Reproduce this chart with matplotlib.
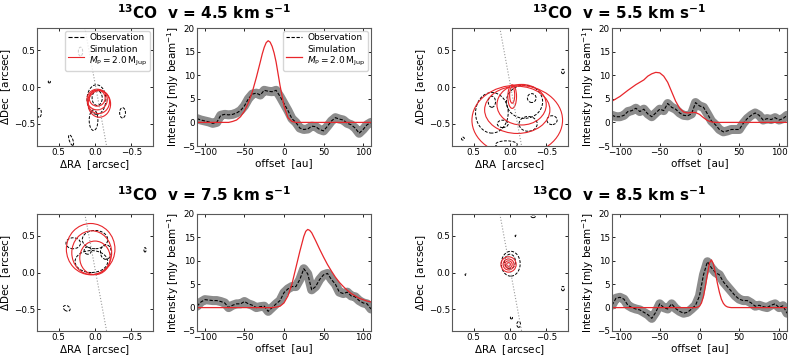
import numpy as np
import matplotlib
matplotlib.use('Agg')
import matplotlib.pyplot as plt
from matplotlib.patches import Ellipse

# ---- line profiles along the cut (offset in au) ----
offset = np.arange(-110, 111, 5)

obs_45 = [0.8, 0.5, 0.3, 0.1, -0.2, 0.0, 1.5, 1.7, 1.6, 1.7, 2.0, 2.5, 3.5, 5.0, 6.0,
          6.2, 5.8, 6.8, 6.6, 6.5, 6.8, 5.5, 4.0, 2.5, 0.8, 0.0, -1.2, -1.5, -1.4, -0.8,
          -0.9, -1.5, -1.8, -0.8, 0.3, 1.0, 0.7, 0.5, -0.2, -0.5, -1.2, -2.3, -1.5, -0.5, 0.0]
obs_55 = [1.5, 1.2, 1.2, 1.5, 2.3, 2.5, 3.0, 2.3, 2.8, 1.8, 1.2, 2.0, 2.8, 2.5, 4.0,
          3.2, 2.8, 2.0, 1.5, 1.4, 1.8, 4.2, 3.5, 3.2, 1.8, 0.3, -0.5, -1.5, -2.0, -1.8,
          -1.5, -1.5, -1.5, -0.2, 0.8, 1.5, 2.0, 1.5, 0.5, 0.8, 0.6, 1.0, 0.5, 0.8, 1.5]
obs_75 = [0.3, 1.2, 1.7, 1.6, 1.5, 1.5, 1.3, 1.0, 0.0, 0.5, 0.8, 0.8, 1.3, 0.8, 0.5,
          0.0, 0.2, 0.3, -0.8, 0.0, 0.8, 1.5, 3.2, 4.0, 4.5, 4.5, 6.0, 8.3, 7.2, 3.8,
          4.5, 6.0, 7.0, 7.3, 6.0, 5.0, 3.3, 3.0, 3.3, 2.5, 2.3, 1.5, 1.0, 0.8, -0.3]
obs_85 = [0.5, 2.0, 2.2, 1.8, 0.5, 0.0, -0.3, -0.5, -1.0, -1.5, -2.3, -1.0, 0.8, 0.0, -0.3,
          0.8, -0.2, -0.8, -1.2, -1.0, -0.3, 0.5, 2.5, 7.0, 9.8, 8.5, 7.5, 7.0, 5.5, 4.5,
          3.5, 2.5, 1.8, 1.5, 1.5, 1.0, 0.3, 0.5, 0.2, 0.0, 0.5, 0.8, 0.0, 0.4, -1.2]

sim_x_45 = [-110, -70, -65, -60, -55, -50, -45, -40, -35, -30, -27.5, -25, -22.5, -20,
            -17.5, -15, -12.5, -10, -5, 0, 5, 10, 15, 110]
sim_45 = [0, 0, 0.2, 0.5, 1.2, 2.4, 4.2, 6.5, 9.5, 12.8, 14.5, 15.9, 16.9, 17.3,
          17.0, 16.1, 14.7, 12.8, 7.8, 3.5, 1.0, 0.2, 0, 0]
sim_x_55 = [-110, -100, -90, -80, -70, -65, -60, -55, -50, -45, -40, -35, -30, -25, -20,
            -15, -10, -5, 0, 5, 10, 15, 20, 110]
sim_55 = [4.5, 5.5, 6.8, 8.0, 9.0, 9.8, 10.3, 10.6, 10.5, 9.8, 8.5, 6.5, 4.5, 3.0, 2.2,
          2.0, 2.1, 2.1, 1.7, 1.0, 0.4, 0.1, 0, 0]
sim_x_75 = [-110, -15, -10, -5, 0, 5, 10, 15, 20, 25, 27.5, 30, 32.5, 35, 40, 45, 50, 55,
            60, 65, 70, 75, 80, 85, 90, 95, 100, 105, 110]
sim_75 = [0, 0, 0.1, 0.3, 1.0, 2.5, 5.0, 8.5, 12.0, 15.2, 16.3, 16.7, 16.5, 16.0, 14.3,
          12.5, 10.8, 9.2, 7.8, 6.5, 5.4, 4.5, 3.7, 3.0, 2.5, 2.0, 1.7, 1.4, 1.2]
sim_x_85 = [-110, -5, -2.5, 0, 2.5, 5, 7.5, 10, 12.5, 15, 17.5, 20, 22.5, 25, 27.5, 30,
            32.5, 35, 37.5, 40, 110]
sim_85 = [0, 0, 0.1, 0.3, 1.0, 2.4, 4.6, 7.2, 9.5, 10.2, 9.3, 7.4, 5.2, 3.3, 1.8, 0.9,
          0.4, 0.15, 0.05, 0, 0]

# ---- channel-map contours as ellipses: (dRA, dDec, width, height, angle) ----
sim_cont_45 = [(-0.03, -0.17, 0.28, 0.28, 0), (-0.05, -0.20, 0.30, 0.32, 0),
               (-0.06, -0.23, 0.31, 0.36, 0), (-0.03, -0.15, 0.22, 0.22, 0)]
obs_cont_45 = [(-0.02, -0.17, 0.26, 0.40, 0), (0.02, -0.45, 0.12, 0.28, 0),
               (-0.03, -0.15, 0.14, 0.20, 0), (-0.38, -0.35, 0.08, 0.14, 0),
               (0.33, -0.72, 0.05, 0.15, -20), (0.77, -0.35, 0.06, 0.12, 0),
               (0.63, 0.07, 0.03, 0.03, 0), (0.20, 0.48, 0.06, 0.12, 0)]
sim_cont_55 = [(-0.10, -0.45, 1.25, 0.95, 0), (-0.10, -0.31, 0.90, 0.64, 0),
               (-0.16, -0.24, 0.68, 0.55, 0), (-0.03, -0.13, 0.12, 0.32, 0),
               (-0.03, -0.11, 0.07, 0.22, 0)]
obs_cont_55 = [(0.25, -0.35, 0.45, 0.55, 0), (-0.20, -0.20, 0.50, 0.45, 0),
               (0.25, -0.20, 0.10, 0.15, 0), (0.10, -0.50, 0.15, 0.10, 0),
               (-0.25, -0.50, 0.25, 0.20, 0), (-0.30, -0.15, 0.12, 0.12, 0),
               (-0.58, -0.45, 0.14, 0.12, 0), (0.05, -0.78, 0.30, 0.10, 0),
               (0.65, -0.70, 0.04, 0.04, 0), (-0.73, 0.21, 0.04, 0.06, 0)]
sim_cont_75 = [(0.06, 0.32, 0.67, 0.70, 0), (0.045, 0.27, 0.55, 0.60, 0),
               (0.0, 0.20, 0.42, 0.46, 0)]
obs_cont_75 = [(0.30, 0.40, 0.20, 0.15, 0), (0.0, 0.45, 0.35, 0.25, 0),
               (0.05, 0.15, 0.45, 0.30, 0), (-0.15, 0.28, 0.15, 0.20, 0),
               (0.10, 0.30, 0.10, 0.10, 0), (0.39, -0.49, 0.10, 0.07, 30),
               (-0.69, 0.31, 0.03, 0.06, 0)]
sim_cont_85 = [(0.02, 0.11, 0.21, 0.21, 0), (0.02, 0.11, 0.15, 0.15, 0),
               (0.02, 0.11, 0.10, 0.10, 0), (0.02, 0.11, 0.05, 0.05, 0)]
obs_cont_85 = [(-0.01, 0.12, 0.26, 0.34, 0), (0.0, 0.15, 0.15, 0.20, 0),
               (0.61, -0.03, 0.02, 0.02, 0), (-0.08, 0.50, 0.02, 0.02, 0),
               (-0.73, -0.22, 0.04, 0.06, 0), (-0.32, 0.77, 0.06, 0.04, 0),
               (-0.02, -0.62, 0.03, 0.03, 0), (-0.12, -0.71, 0.05, 0.08, 0)]

cut_ra = [0.14, -0.16]
cut_dec = [0.8, -0.8]

velocities = ['4.5', '5.5', '7.5', '8.5']
obs_all = [obs_45, obs_55, obs_75, obs_85]
sim_x_all = [sim_x_45, sim_x_55, sim_x_75, sim_x_85]
sim_all = [sim_45, sim_55, sim_75, sim_85]
sim_cont_all = [sim_cont_45, sim_cont_55, sim_cont_75, sim_cont_85]
obs_cont_all = [obs_cont_45, obs_cont_55, obs_cont_75, obs_cont_85]

W, H = 789, 359
fig = plt.figure(figsize=(W / 100, H / 100), dpi=100)

# pixel boxes (left, top, right, bottom) for each group
map_boxes = [(37, 28, 153, 146), (452, 28, 568, 146), (37, 214, 153, 331), (452, 214, 568, 331)]
line_boxes = [(197, 28, 371, 146), (612, 28, 787, 146), (197, 214, 371, 331), (612, 214, 787, 331)]
title_pos = [(204, 13), (619, 13), (204, 195), (619, 195)]

red = '#e8262b'
tick_fs = 6.3
label_fs = 7.5
sim_label = 'Simulation\n' + r'$M_{\rm P} = 2.0\,{\rm M_{Jup}}$'


def px_axes(box):
    l, t, r, b = box
    return fig.add_axes([l / W, 1 - b / H, (r - l) / W, (b - t) / H])


def style(ax):
    ax.tick_params(direction='in', top=True, right=True, labelsize=tick_fs,
                   length=2.5, width=0.6, pad=1.5)
    for s in ax.spines.values():
        s.set_linewidth(0.8)
        s.set_color('0.35')


def add_legend(ax):
    ax.legend(loc='upper right', fontsize=6.5, handlelength=1.8, borderpad=0.3,
              labelspacing=0.25, handletextpad=0.6, borderaxespad=0.3)


for i, v in enumerate(velocities):
    # channel map
    ax = px_axes(map_boxes[i])
    ax.plot(cut_ra, cut_dec, ':', color='0.6', lw=0.8)
    for (cx, cy, w, h, a) in obs_cont_all[i]:
        ax.add_patch(Ellipse((cx, cy), w, h, angle=a, fill=False, ec='k',
                             ls=(0, (3, 1.5)), lw=0.7))
    for (cx, cy, w, h, a) in sim_cont_all[i]:
        ax.add_patch(Ellipse((cx, cy), w, h, angle=a, fill=False, ec=red, lw=0.8))
    ax.set_xlim(0.8, -0.8)
    ax.set_ylim(-0.8, 0.8)
    ax.set_xticks([0.5, 0.0, -0.5])
    ax.set_yticks([-0.5, 0.0, 0.5])
    ax.set_xlabel(r'$\Delta$RA  [arcsec]', fontsize=label_fs, labelpad=0.5)
    ax.set_ylabel(r'$\Delta$Dec  [arcsec]', fontsize=label_fs, labelpad=0.5)
    style(ax)
    if i == 0:
        ax.plot([], [], '--', color='k', lw=0.8, label='Observation')
        ax.plot([], [], '-', color=red, lw=0.8, label=sim_label)
        add_legend(ax)

    # profile along the cut
    ax2 = px_axes(line_boxes[i])
    ax2.plot(offset, obs_all[i], '-', color='0.55', lw=6.5, solid_capstyle='round',
             solid_joinstyle='round')
    ax2.plot(offset, obs_all[i], '--', color='k', lw=0.8, dashes=(3, 1.5),
             label='Observation')
    ax2.plot(sim_x_all[i], sim_all[i], '-', color=red, lw=0.9, label=sim_label)
    ax2.set_xlim(-110, 110)
    ax2.set_ylim(-5, 20)
    ax2.set_xticks([-100, -50, 0, 50, 100])
    ax2.set_yticks([-5, 0, 5, 10, 15, 20])
    ax2.set_xlabel('offset  [au]', fontsize=label_fs, labelpad=0.5)
    ax2.set_ylabel(r'Intensity [mJy beam$^{-1}$]', fontsize=label_fs, labelpad=0.5)
    style(ax2)
    if i == 0:
        add_legend(ax2)

    tx, ty = title_pos[i]
    fig.text(tx / W, 1 - ty / H,
             r'$^{\mathbf{13}}$CO  v = ' + v + r' km s$^{\mathbf{-1}}$',
             ha='center', va='center', fontsize=11, fontweight='bold')

fig.savefig('out.png', dpi=100)
